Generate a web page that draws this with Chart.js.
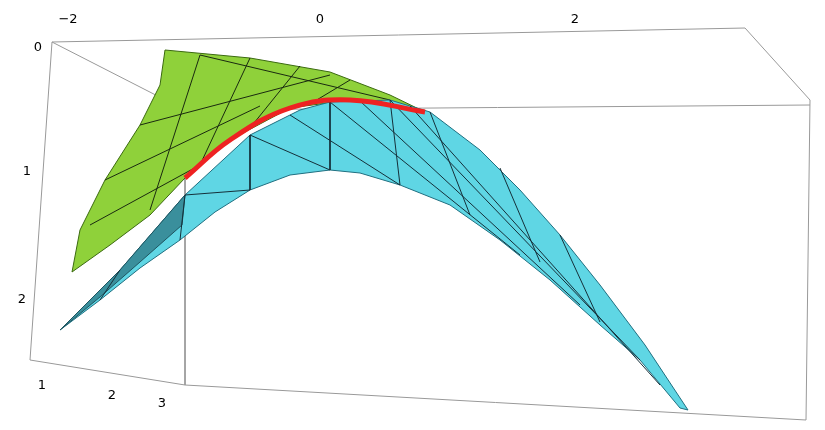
<!DOCTYPE html>
<html><head><meta charset="utf-8">
<script src="https://cdn.jsdelivr.net/npm/chart.js@4"></script>
<style>html,body{margin:0;background:#fff}#wrap{width:825px;height:430px}</style>
</head><body><div id="wrap"><canvas id="c"></canvas></div>
<script>
// Outlines, in picture coordinates (x right, y down)
const boxEdges = [
  [[52,42],[745,28]], [[745,28],[810,100]], [[810,100],[806,420]],
  [[52,42],[30,360]], [[30,360],[185,385]], [[185,385],[806,420]],
  [[185,110],[185,385]], [[52,42],[185,110]], [[185,110],[810,105]]
];
const greenOutline = [[165,50],[250,58],[330,72],[390,95],[425,112],[350,100],[290,108],
  [230,140],[185,178],[150,215],[110,245],[72,272],[80,230],[105,180],[140,125],[160,85],[165,50]];
const cyanOutline = [[60,330],[120,270],[185,195],[250,135],[300,110],[330,102],[390,100],[430,112],
  [480,150],[520,190],[560,235],[600,285],[645,345],[688,410],[680,408],[640,360],[600,325],
  [550,280],[500,240],[450,205],[400,185],[360,173],[330,170],[290,175],
  [250,190],[215,212],[180,240],[140,268],[100,300],[60,330]];
const darkUnderside = [[60,330],[120,270],[185,195],[182,225],[140,262],[100,297],[60,330]];
const redCurve = [[185,178],[230,140],[290,108],[350,100],[425,112]];
const greenMesh = [
  [[200,55],[150,210]], [[250,58],[200,165]], [[300,66],[250,128]], [[350,80],[310,104]],
  [[140,125],[330,75]], [[105,180],[260,106]], [[90,225],[200,165]], [[200,55],[390,100]]
];
const cyanMesh = [
  [[330,102],[330,170]], [[390,100],[400,185]], [[430,112],[470,215]], [[500,168],[540,262]],
  [[560,235],[600,322]], [[250,135],[250,190]], [[185,195],[180,240]], [[120,270],[100,300]],
  [[330,102],[520,255]], [[390,100],[640,360]], [[360,101],[580,305]], [[250,135],[330,170]],
  [[185,195],[250,190]], [[290,115],[400,185]], [[410,106],[660,385]]
];
const topTicks = [[-2,68,20],[0,320,20],[2,575,20]];
const leftTicks = [[0,38,48],[1,27,172],[2,22,300]];
const bottomTicks = [[1,42,386],[2,112,396],[3,162,404]];

const pts = a => a.map(p => ({x:p[0], y:p[1]}));
const line = (a, color, width, order, extra) => Object.assign({data:pts(a), borderColor:color, borderWidth:width, pointRadius:0, showLine:true, order}, extra || {});
const datasets = [];
boxEdges.forEach(e => datasets.push(line(e, '#999', 1, 100)));
datasets.push(line(greenOutline, '#3b6a10', 1, 90, {polyFill:'#8fd13a'}));
greenMesh.forEach(e => datasets.push(line(e, '#1a2a10', 1, 85)));
datasets.push(line(cyanOutline, '#1f6f80', 1, 80, {polyFill:'#5fd6e4'}));
datasets.push(line(darkUnderside, '#1f5560', 1, 78, {polyFill:'#3a8f9c'}));
cyanMesh.forEach(e => datasets.push(line(e, '#15303a', 1, 75)));
datasets.push(line(redCurve, '#ee2222', 5, 0, {tension:0.4}));

// fill closed outlines before each dataset draws its line
const polyFill = {
  id:'polyFill',
  beforeDatasetDraw(chart, args){
    const ds = chart.data.datasets[args.index];
    if (!ds.polyFill) return;
    const ctx = chart.ctx, els = args.meta.data;
    ctx.save(); ctx.beginPath();
    els.forEach((el, i) => i ? ctx.lineTo(el.x, el.y) : ctx.moveTo(el.x, el.y));
    ctx.closePath(); ctx.fillStyle = ds.polyFill; ctx.fill(); ctx.restore();
  }
};
const tickText = {
  id:'tickText',
  afterDraw(chart){
    const {ctx, scales:{x, y}} = chart;
    ctx.save();
    ctx.font = '13px "DejaVu Sans"'; ctx.fillStyle = '#000';
    ctx.textAlign = 'center'; ctx.textBaseline = 'middle';
    [...topTicks, ...leftTicks, ...bottomTicks].forEach(t => ctx.fillText(String(t[0]).replace('-','\u2212'), x.getPixelForValue(t[1]), y.getPixelForValue(t[2])));
    ctx.restore();
  }
};

new Chart(document.getElementById('c'), {
  type:'scatter',
  data:{datasets},
  options:{
    responsive:true, maintainAspectRatio:false, animation:false,
    layout:{padding:0},
    plugins:{legend:{display:false}, tooltip:{enabled:false}},
    scales:{
      x:{type:'linear', min:0, max:825, display:false},
      y:{type:'linear', min:0, max:430, reverse:true, display:false}
    }
  },
  plugins:[polyFill, tickText]
});
</script></body></html>
